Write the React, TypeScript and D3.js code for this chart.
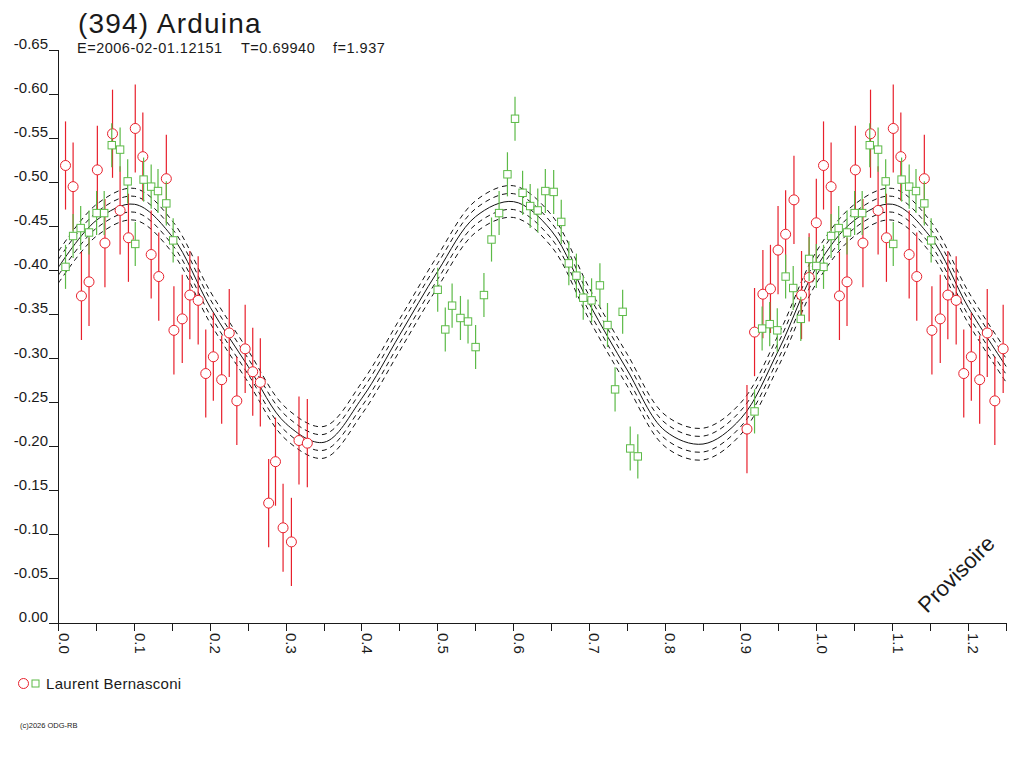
import * as d3 from 'd3';

// Laurent Bernasconi, session 1 (red circles): phase, magnitude
const redPhase = [
  0.009, 0.019, 0.030, 0.040, 0.051, 0.061, 0.071, 0.081, 0.092, 0.101,
  0.111, 0.122, 0.132, 0.142, 0.152, 0.163, 0.173, 0.184, 0.194, 0.204,
  0.215, 0.225, 0.235, 0.246, 0.256, 0.266, 0.277, 0.286, 0.296, 0.307,
  0.317, 0.328,
  0.908, 0.918, 0.929, 0.939, 0.949, 0.959, 0.970, 0.980, 0.990, 0.9995,
];
const redMag = [
  -0.519, -0.495, -0.371, -0.387, -0.514, -0.431, -0.555, -0.468, -0.437, -0.561,
  -0.529, -0.418, -0.393, -0.504, -0.332, -0.345, -0.372, -0.366, -0.283, -0.302,
  -0.276, -0.329, -0.252, -0.311, -0.285, -0.273, -0.136, -0.183, -0.108, -0.092,
  -0.207, -0.204,
  -0.220, -0.330, -0.373, -0.379, -0.423, -0.441, -0.480, -0.372, -0.392, -0.454,
];

// session 2 (green squares)
const greenPhase = [
  0.009, 0.019, 0.029, 0.040, 0.050, 0.060, 0.070, 0.081, 0.091, 0.101,
  0.112, 0.122, 0.131, 0.142, 0.151,
  0.500, 0.510, 0.519, 0.530, 0.540, 0.550, 0.561, 0.571, 0.581, 0.592,
  0.602, 0.612, 0.622, 0.632, 0.642, 0.653, 0.663, 0.673, 0.683, 0.692,
  0.703, 0.714, 0.724, 0.734, 0.744, 0.754, 0.764,
  0.918, 0.928, 0.938, 0.948, 0.959, 0.969, 0.979, 0.990, 0.9995,
];
const greenMag = [
  -0.404, -0.439, -0.448, -0.443, -0.465, -0.465, -0.542, -0.537, -0.501, -0.430,
  -0.503, -0.495, -0.490, -0.476, -0.434,
  -0.378, -0.333, -0.360, -0.346, -0.342, -0.313, -0.372, -0.435, -0.465, -0.509,
  -0.572, -0.488, -0.473, -0.468, -0.490, -0.489, -0.455, -0.408, -0.394, -0.369,
  -0.366, -0.383, -0.338, -0.265, -0.353, -0.198, -0.189,
  -0.240, -0.334, -0.339, -0.332, -0.393, -0.380, -0.345, -0.413, -0.405,
];

const RED_ERR = 0.05;
const GREEN_ERR = 0.025;

// fitted light curve, read every 0.05 in phase
const curvePhase = [
  0, 0.05, 0.1, 0.15, 0.2, 0.25, 0.3, 0.35, 0.4, 0.45, 0.5,
  0.55, 0.6, 0.65, 0.7, 0.75, 0.8, 0.85, 0.9, 0.95, 1.0,
];
const curveMag = [
  -0.404, -0.457, -0.475, -0.438, -0.358, -0.291, -0.226, -0.205, -0.255, -0.327, -0.399,
  -0.461, -0.478, -0.445, -0.362, -0.287, -0.218, -0.203, -0.232, -0.310, -0.404,
];
const bandOffsets = [-0.018, -0.009, 0.009, 0.018];

const yTicks = [0, -0.05, -0.1, -0.15, -0.2, -0.25, -0.3, -0.35, -0.4, -0.45, -0.5, -0.55, -0.6, -0.65];
const xMajor = [0, 0.1, 0.2, 0.3, 0.4, 0.5, 0.6, 0.7, 0.8, 0.9, 1.0, 1.1, 1.2];
const xLabels = ['0.0', '0.1', '0.2', '0.3', '0.4', '0.5', '0.6', '0.7', '0.8', '0.9', '1.0', '1.1', '1.2'];
const xMinor = [0.05, 0.15, 0.25, 0.35, 0.45, 0.55, 0.65, 0.75, 0.85, 0.95, 1.05, 1.15, 1.25];

const PHASE_MAX = 1.25;
const FONT = '"Liberation Sans", Arial, sans-serif';
const RED = '#e8202c';
const GREEN = '#5cba47';

const x = d3.scaleLinear().domain([0, PHASE_MAX]).range([58.7, 1006.2]);
const y = d3.scaleLinear().domain([0, -0.65]).range([623, 50]);

// phase folding: every point is also shown one cycle later while it fits on the axis
function unfold(phases: number[], mags: number[]) {
  const out: { p: number; m: number }[] = [];
  phases.forEach((p, i) => {
    out.push({ p, m: mags[i] });
    if (p + 1 <= PHASE_MAX) out.push({ p: p + 1, m: mags[i] });
  });
  return out;
}

const curvePts: [number, number][] = [];
curvePhase.forEach((p, i) => curvePts.push([p, curveMag[i]]));
curvePhase.forEach((p, i) => {
  if (i > 0 && p + 1 <= PHASE_MAX) curvePts.push([p + 1, curveMag[i]]);
});

const line = d3
  .line<[number, number]>()
  .x(d => x(d[0]))
  .y(d => y(d[1]))
  .curve(d3.curveCatmullRom.alpha(0.5));

const App = () => {
  const reds = unfold(redPhase, redMag);
  const greens = unfold(greenPhase, greenMag);

  return (
    <svg
      width={1024}
      height={768}
      style={{ position: 'absolute', left: 0, top: 0, background: '#fff' }}
      fontFamily={FONT}
    >
      <rect width={1024} height={768} fill="#fff" />

      {/* titles */}
      <text x={78} y={33} fontSize={28} letterSpacing={1.2} fill="#1a1a1a">(394) Arduina</text>
      <text x={77} y={53} fontSize={14.5} letterSpacing={0.5} fill="#1a1a1a">E=2006-02-01.12151</text>
      <text x={241} y={53} fontSize={14.5} letterSpacing={0.5} fill="#1a1a1a">T=0.69940</text>
      <text x={333} y={53} fontSize={14.5} letterSpacing={0.5} fill="#1a1a1a">f=1.937</text>

      {/* axes */}
      <g stroke="#1a1a1a" shapeRendering="crispEdges">
        <line x1={x(0)} x2={x(0)} y1={y(-0.65)} y2={y(0)} />
        <line x1={49} x2={x(PHASE_MAX)} y1={y(0)} y2={y(0)} />
        {yTicks.map(t => (
          <line key={t} x1={49} x2={x(0)} y1={y(t)} y2={y(t)} />
        ))}
        {xMajor.concat(xMinor).map(t => (
          <line key={'x' + t} x1={x(t)} x2={x(t)} y1={y(0)} y2={y(0) + 8} />
        ))}
      </g>
      {yTicks.map(t => (
        <text key={'yl' + t} x={48} y={y(t) - 1} fontSize={15} textAnchor="end" fill="#1a1a1a">
          {Math.abs(t) < 1e-9 ? '0.00' : t.toFixed(2)}
        </text>
      ))}
      {xMajor.map((t, i) => (
        <text
          key={'xl' + t}
          transform={`translate(${x(t)},${y(0) + 10}) rotate(90)`}
          fontSize={15}
          fill="#1a1a1a"
        >
          {xLabels[i]}
        </text>
      ))}

      {/* fitted curve with dashed bands */}
      <g fill="none" stroke="#111" strokeWidth={1}>
        {bandOffsets.map(o => (
          <path
            key={o}
            d={line(curvePts.map(d => [d[0], d[1] + o] as [number, number])) || ''}
            strokeDasharray="5,4"
          />
        ))}
        <path d={line(curvePts) || ''} />
      </g>

      {/* red session */}
      <g>
        {reds.map((d, i) => (
          <line key={'re' + i} x1={x(d.p)} x2={x(d.p)} y1={y(d.m - RED_ERR)} y2={y(d.m + RED_ERR)} stroke={RED} strokeWidth={1.2} />
        ))}
        {reds.map((d, i) => (
          <circle key={'rc' + i} cx={x(d.p)} cy={y(d.m)} r={5} fill="#fff" stroke={RED} strokeWidth={1} />
        ))}
      </g>

      {/* green session */}
      <g>
        {greens.map((d, i) => (
          <line key={'ge' + i} x1={x(d.p)} x2={x(d.p)} y1={y(d.m - GREEN_ERR)} y2={y(d.m + GREEN_ERR)} stroke={GREEN} strokeWidth={1.2} />
        ))}
        {greens.map((d, i) => (
          <rect key={'gr' + i} x={x(d.p) - 3.7} y={y(d.m) - 3.7} width={7.4} height={7.4} fill="#fff" stroke={GREEN} strokeWidth={1} />
        ))}
      </g>

      {/* watermark */}
      <text transform="translate(927,614) rotate(-45)" fontSize={22} fill="#1a1a1a">Provisoire</text>

      {/* legend */}
      <circle cx={23.5} cy={683.5} r={5} fill="#fff" stroke={RED} />
      <rect x={32} y={680} width={7} height={7} fill="#fff" stroke={GREEN} />
      <text x={46} y={689} fontSize={15} letterSpacing={0.3} fill="#1a1a1a">Laurent Bernasconi</text>

      <text x={20} y={728} fontSize={7.5} fill="#1a1a1a">(c)2026 ODG-RB</text>
    </svg>
  );
};

export default App;
